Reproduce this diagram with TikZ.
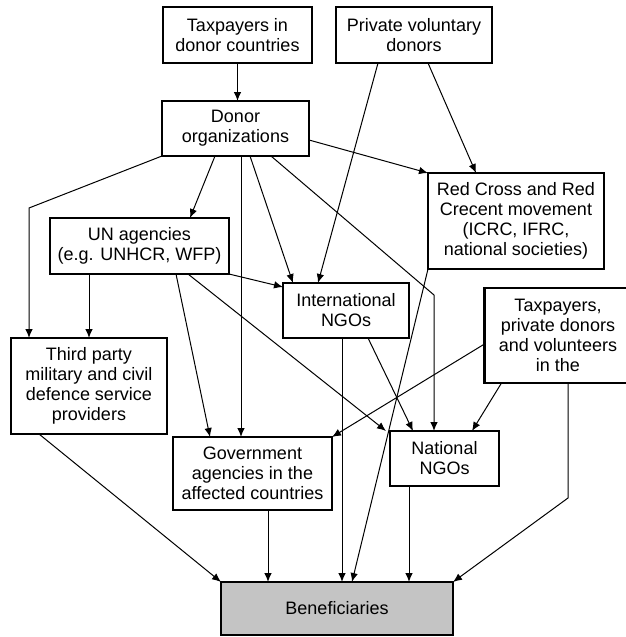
\documentclass[tikz,border=0pt]{standalone}
\usepackage{fontspec}
\setmainfont{Liberation Sans}
\usetikzlibrary{arrows.meta,positioning}
\definecolor{benfill}{HTML}{C4C4C4}

\begin{document}
\begin{tikzpicture}[
  box/.style={draw, line width=1.3pt, outer sep=0pt, inner sep=2pt, align=center, font=\fontsize{18}{20}\selectfont},
  srcbox/.style={box, line width=2.8pt},
  arr/.style={-{Latex[length=9pt, width=7.5pt]}, line width=1pt}
]
  \useasboundingbox (0,0) rectangle (625pt,-637pt);

  \node[srcbox, minimum width=149pt, minimum height=56pt] (taxd) at (237.5pt,-35pt) {Taxpayers in\\donor countries};
  \node[srcbox, minimum width=156pt, minimum height=56pt, right=24pt of taxd] (priv) {Private voluntary\\donors};
  \node[box, minimum width=147pt, minimum height=55pt, below=38pt of taxd, xshift=-2pt] (donor) {Donor\\organizations};
  \node[box, minimum width=176pt, minimum height=96pt, below=17pt of donor, xshift=280.5pt] (redx) {Red Cross and Red\\Crecent movement\\(ICRC, IFRC,\\national societies)};
  \node[box, minimum width=179pt, minimum height=56pt, below=62pt of donor, xshift=-96pt] (un) {UN agencies\\(e.g. UNHCR, WFP)};
  \node[box, minimum width=126pt, minimum height=55pt, right=54pt of un, yshift=-64.5pt] (intl) {International\\NGOs};
  \node[srcbox, minimum width=147pt, minimum height=95pt, below=19pt of redx, xshift=42pt] (taxa) {Taxpayers,\\private donors\\and volunteers\\in the};
  \node[box, minimum width=156pt, minimum height=96pt, below=64pt of un, xshift=-50.5pt] (third) {Third party\\military and civil\\defence service\\providers};
  \node[box, minimum width=159pt, minimum height=73pt, below=163pt of un, xshift=113pt] (gov) {Government\\agencies in the\\affected countries};
  \node[box, minimum width=109pt, minimum height=55pt, below=93pt of intl, xshift=98.5pt] (natl) {National\\NGOs};
  \node[srcbox, fill=benfill, minimum width=232pt, minimum height=53pt, below=72pt of gov, xshift=84.5pt] (benef) {Beneficiaries};

  \coordinate (dg) at ([xshift=5.5pt]donor.south);
  \coordinate (dn) at ([xshift=-10.5pt]natl.north);
  \coordinate (dt) at ([xshift=18pt]third.north west);
  \coordinate (ib) at ([xshift=-4pt]intl.south);
  \coordinate (tb) at ([xshift=10pt]taxa.south);

  \draw[arr] (taxd.south) -- (taxd.south |- donor.north);
  \draw[arr] ([yshift=-11.5pt]donor.east) -- (redx.north west);
  \draw[arr] ([xshift=-20.5pt]donor.south) -- ([xshift=50.5pt]un.north);
  \draw[arr] (dg) -- (dg |- gov.north);
  \draw[arr] ([xshift=14.5pt]donor.south) -- ([xshift=-53pt]intl.north);
  \draw[arr] ([xshift=35.5pt]donor.south) -- ([yshift=-12pt]dn |- intl.north) -- (dn);
  \draw[arr] (donor.south west) -- ([yshift=-52pt]dt |- donor.south) -- (dt);
  \draw[arr] ([xshift=-36pt]priv.south) -- ([xshift=-28pt]intl.north);
  \draw[arr] ([xshift=14pt]priv.south) -- ([xshift=-40pt]redx.north);
  \draw[arr] (un.south -| third.north) -- (third.north);
  \draw[arr] (un.south east) -- ([yshift=-4pt]intl.north west);
  \draw[arr] ([xshift=36.5pt]un.south) -- ([xshift=-42.5pt]gov.north);
  \draw[arr] ([xshift=48.5pt]un.south) -- ([xshift=-4pt]natl.north west);
  \draw[arr] ([xshift=22pt]intl.south) -- ([xshift=-31.5pt]natl.north);
  \draw[arr] (ib) -- (ib |- benef.north);
  \draw[arr] (redx.south west) -- ([xshift=15pt]benef.north);
  \draw[arr] ([xshift=17pt]taxa.south west) -- ([xshift=27.5pt]natl.north);
  \draw[arr] ([yshift=-8.5pt]taxa.west) -- (gov.north east);
  \draw[arr] (tb) -- ([yshift=-115pt]tb) -- (benef.north east);
  \draw[arr] ([xshift=28pt]third.south west) -- (benef.north west);
  \draw[arr] ([xshift=15.5pt]gov.south) -- ([xshift=15.5pt]gov.south |- benef.north);
  \draw[arr] ([xshift=-35.5pt]natl.south) -- ([xshift=-35.5pt]natl.south |- benef.north);
\end{tikzpicture}
\end{document}
